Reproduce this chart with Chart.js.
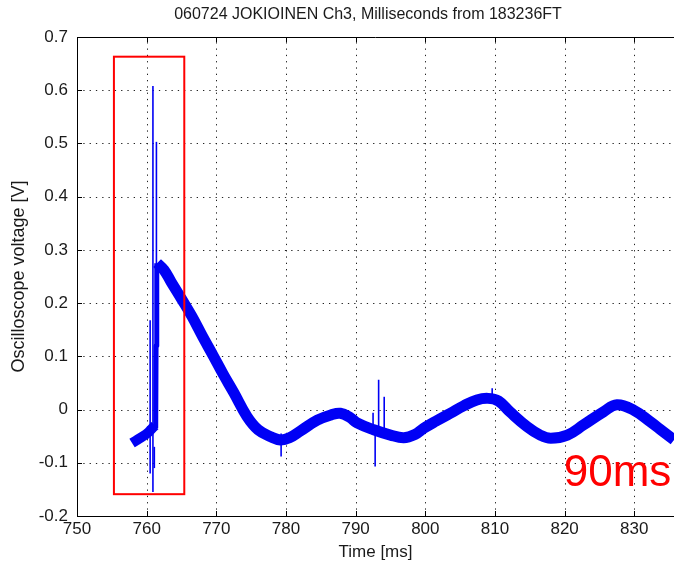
<!DOCTYPE html>
<html>
<head>
<meta charset="utf-8">
<script src="https://cdn.jsdelivr.net/npm/chart.js@4/dist/chart.umd.min.js"></script>
<style>
  html, body { margin: 0; padding: 0; background: #fff; }
  #wrap { width: 674px; height: 565px; position: relative; }
</style>
</head>
<body>
<div id="wrap"><canvas id="c" width="674" height="565"></canvas></div>
<script>
// ---- data ----
const chartTitle = '060724 JOKIOINEN Ch3, Milliseconds from 183236FT';
const xTitle = 'Time [ms]';
const yTitle = 'Oscilloscope voltage [V]';

// trace before the discharge
const preTime  = [757.9, 758.5, 759.5, 760.3, 760.8, 761.2];
const preVolt  = [-0.063, -0.058, -0.050, -0.042, -0.035, -0.030];
// fast rise
const riseTime = [761.3, 761.35, 761.45];
const riseVolt = [-0.035, 0.12, 0.275];
// main waveform after the discharge
const mainTime = [761.5, 762.5, 763.5, 765.0, 766.5, 768.0, 769.6, 771.0, 772.5, 774.4,
                  776.0, 777.8, 779.2, 780.5, 782.1, 784.5, 786.5, 787.8, 789.2, 790.2,
                  792.6, 795.0, 796.9, 798.5, 799.8, 801.5, 803.6, 805.5, 807.4, 809.0,
                  810.5, 812.2, 814.6, 816.5, 818.0, 820.4, 822.7, 825.6, 827.5, 829.9,
                  832.3, 834.0, 835.7];
const mainVolt = [0.275, 0.262, 0.240, 0.208, 0.175, 0.138, 0.100, 0.066, 0.032, -0.013,
                  -0.038, -0.051, -0.057, -0.053, -0.040, -0.020, -0.010, -0.007, -0.015, -0.025,
                  -0.038, -0.048, -0.053, -0.047, -0.035, -0.022, -0.007, 0.007, 0.018, 0.021,
                  0.016, -0.005, -0.032, -0.048, -0.054, -0.048, -0.029, -0.004, 0.009, -0.001,
                  -0.023, -0.040, -0.057];
// narrow spikes
const spikeTime = [760.9, 761.4, 760.5, 761.1, 779.3, 792.5, 792.8, 793.3, 794.1, 809.6];
const spikeLow  = [-0.155, 0.270, -0.120, -0.110, -0.088, -0.040, -0.107, -0.045, -0.040, 0.020];
const spikeHigh = [0.608, 0.503, 0.168, -0.070, -0.045, -0.006, -0.040, 0.056, 0.024, 0.040];

// axis ranges and ticks
const xMin = 750, xMax = 835.7, xStep = 10;
const yMin = -0.2, yMax = 0.7, yStep = 0.1;

// annotation: highlighted box and label
const boxX = [755.3, 765.4];
const boxY = [-0.159, 0.663];
const noteText = '90ms';
const notePos = [827.6, -0.12];

// ---- build datasets ----
const toPts = (xs, ys) => xs.map((x, i) => ({ x: x, y: ys[i] }));
const blue = '#0000f5';
const datasets = [
  { data: toPts(preTime, preVolt), borderColor: blue, borderWidth: 10, tension: 0.3 },
  { data: toPts(riseTime, riseVolt), borderColor: blue, borderWidth: 5, tension: 0 },
  { data: toPts(mainTime, mainVolt), borderColor: blue, borderWidth: 11, tension: 0.4 }
];
spikeTime.forEach((t, i) => {
  datasets.push({ data: [{ x: t, y: spikeLow[i] }, { x: t, y: spikeHigh[i] }],
                  borderColor: blue, borderWidth: 1.6, tension: 0 });
});
datasets.forEach(d => { d.pointRadius = 0; d.fill = false; d.borderCapStyle = 'butt'; d.borderJoinStyle = 'round'; });

const FONT = '"Liberation Sans", Arial, Helvetica, sans-serif';
const TXT = '#1a1a1a';

const gridPlugin = {
  id: 'dotgrid',
  beforeDatasetsDraw(chart) {
    const { ctx, chartArea: a, scales: { x, y } } = chart;
    ctx.save();
    ctx.strokeStyle = '#222';
    ctx.lineWidth = 1;
    ctx.setLineDash([1.3, 5]);
    ctx.beginPath();
    x.ticks.forEach(t => {
      const px = Math.round(x.getPixelForValue(t.value)) + 0.5;
      if (px <= a.left + 2 || px >= a.right - 1) return;
      ctx.moveTo(px, a.bottom); ctx.lineTo(px, a.top);
    });
    y.ticks.forEach(t => {
      const py = Math.round(y.getPixelForValue(t.value)) + 0.5;
      if (py <= a.top + 2 || py >= a.bottom - 2) return;
      ctx.moveTo(a.left, py); ctx.lineTo(a.right, py);
    });
    ctx.stroke();
    ctx.restore();
  }
};

const framePlugin = {
  id: 'frame',
  afterDatasetsDraw(chart) {
    const { ctx, chartArea: a, scales: { x, y } } = chart;
    ctx.save();
    ctx.strokeStyle = '#000';
    ctx.lineWidth = 1;
    ctx.beginPath();
    ctx.moveTo(a.left, a.top + 0.5);
    ctx.lineTo(a.right, a.top + 0.5);
    ctx.stroke();
    ctx.beginPath();
    x.ticks.forEach(t => {
      const px = Math.round(x.getPixelForValue(t.value)) + 0.5;
      ctx.moveTo(px, a.bottom); ctx.lineTo(px, a.bottom - 5);
      ctx.moveTo(px, a.top); ctx.lineTo(px, a.top + 5);
    });
    y.ticks.forEach(t => {
      const py = Math.round(y.getPixelForValue(t.value)) + 0.5;
      ctx.moveTo(a.left, py); ctx.lineTo(a.left + 5, py);
    });
    ctx.stroke();
    // red annotation box
    ctx.strokeStyle = '#ff0000';
    ctx.lineWidth = 2;
    const l = x.getPixelForValue(boxX[0]), r = x.getPixelForValue(boxX[1]);
    const t = y.getPixelForValue(boxY[1]), b = y.getPixelForValue(boxY[0]);
    ctx.strokeRect(l, t, r - l, b - t);
    // note text
    ctx.fillStyle = '#ff0000';
    ctx.font = '44px ' + FONT;
    ctx.textAlign = 'center';
    ctx.textBaseline = 'middle';
    ctx.fillText(noteText, x.getPixelForValue(notePos[0]), y.getPixelForValue(notePos[1]));
    // chart title
    ctx.fillStyle = TXT;
    ctx.font = '16px ' + FONT;
    ctx.fillText(chartTitle, 368, 15);
    ctx.restore();
  }
};

new Chart(document.getElementById('c'), {
  type: 'line',
  data: { datasets: datasets },
  plugins: [gridPlugin, framePlugin],
  options: {
    responsive: false,
    animation: false,
    layout: { padding: { left: 0, right: 0, top: 37, bottom: 0 } },
    plugins: { legend: { display: false }, tooltip: { enabled: false }, title: { display: false } },
    scales: {
      x: {
        type: 'linear', min: xMin, max: xMax,
        afterFit(s) { s.height = 49; },
        ticks: {
          stepSize: xStep, includeBounds: false, padding: 3, color: TXT,
          font: { family: FONT, size: 17 }, maxRotation: 0,
          callback: v => String(Math.round(v))
        },
        grid: { display: false, drawTicks: false },
        border: { display: true, color: '#000', width: 1 },
        title: { display: true, text: xTitle, color: TXT, font: { family: FONT, size: 17 }, padding: { top: 0, bottom: 2 } }
      },
      y: {
        type: 'linear', min: yMin, max: yMax,
        afterFit(s) { s.width = 77; },
        ticks: {
          stepSize: yStep, padding: 9, color: TXT,
          font: { family: FONT, size: 17 },
          callback: v => String(Number(v.toFixed(1)))
        },
        grid: { display: false, drawTicks: false },
        border: { display: true, color: '#000', width: 1 },
        title: { display: true, text: yTitle, color: TXT, font: { family: FONT, size: 18 }, padding: { top: 8, bottom: 0 } }
      }
    }
  }
});
</script>
</body>
</html>
